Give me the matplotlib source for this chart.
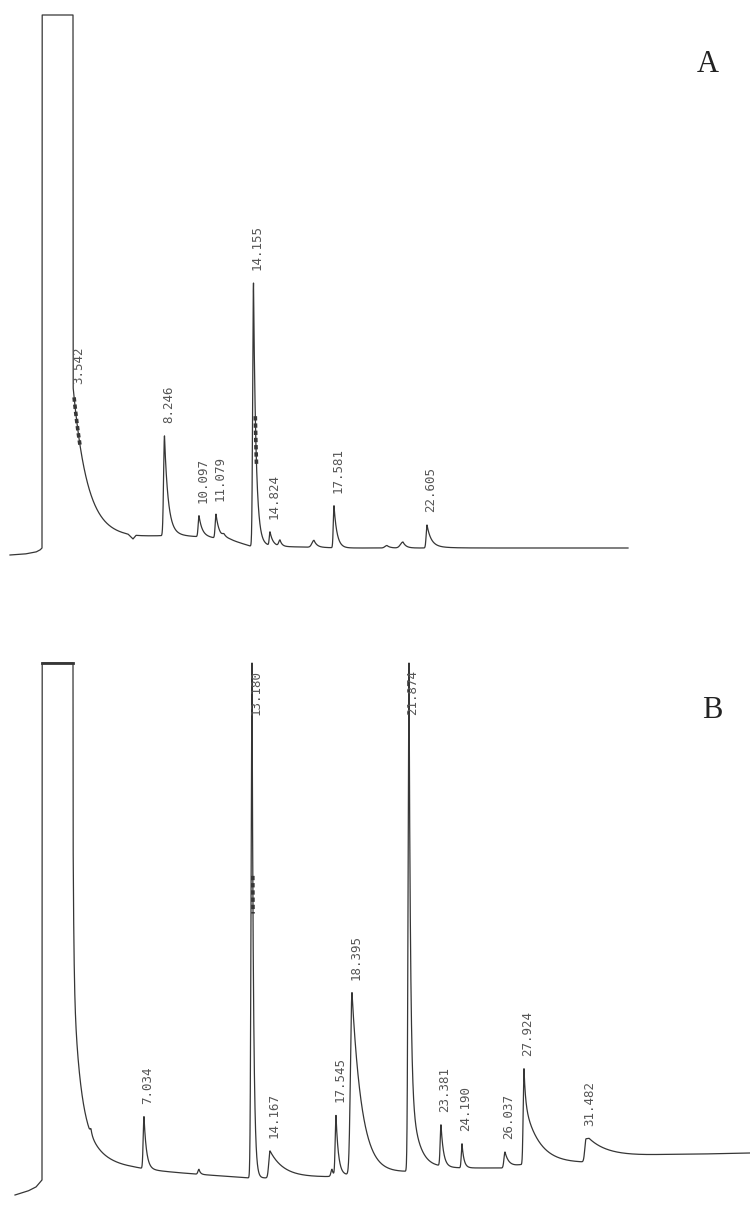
import numpy as np
import matplotlib.pyplot as plt

# x = position along the recorder chart (px), signal = height above panel bottom (px)
FULL_A = 589
FULL_B = 545

# ---- trace A ----
base_a_x = [10, 25, 36, 40, 42, 73, 128, 133, 136, 160, 200, 230, 250, 300, 345, 628]
base_a_sig = [49, 50, 52, 54, 56, 68, 67, 63, 67, 68, 67, 64, 58, 57, 56, 56]
solvent_a = (42, 73)
solvent_a_tail = [(150, 14)]
# position, height, rise width, tail
peaks_a = [
    (164.5, 92, 0.9, 3.5), (164.5, 8, 0.9, 10),
    (199, 18, 0.8, 3), (199, 3, 0.8, 8),
    (216, 21, 0.8, 3), (216, 3, 0.8, 8),
    (224, 3, 1.5, 3),
    (253.5, 257, 0.8, 2.5), (253.5, 6, 1.0, 8),
    (270, 13.5, 0.7, 3),
    (280, 6, 1.2, 2),
    (314, 7, 2.0, 3),
    (334, 42, 0.7, 3),
    (387, 2.5, 2.0, 3),
    (403, 6, 2.5, 3),
    (427, 20, 0.8, 4), (427, 3, 1.0, 12),
]
labels_a = ["3.542", "8.246", "10.097", "11.079", "14.155", "14.824", "17.581", "22.605"]
label_pos_a = [75, 164.5, 199, 216, 253.5, 270, 334, 427]
marks_a = [(74, 80), (255.2, 256.5)]

# ---- trace B ----
base_b_x = [15, 28, 36, 41, 42, 73, 133, 150, 250, 262, 327, 348, 407, 440, 505, 520, 585, 589, 660, 750]
base_b_sig = [13, 17, 21, 27, 28, 38, 38, 37, 30, 30, 31, 33, 36, 40, 40, 43, 45, 50, 53, 55]
solvent_b = (42, 73)
solvent_b_tail = [(160, 0.8), (126, 6.4), (70, 20)]
peaks_b = [
    (91, 5, 0.8, 1.2),
    (144, 52, 0.8, 2.5),
    (199, 5, 1.0, 1.5),
    (252, 515, 0.9, 1.5),
    (270, 27, 1.2, 14),
    (332, 7, 1.0, 1.5),
    (336, 60, 0.8, 2.5),
    (352, 182, 1.5, 10),
    (409, 420, 0.9, 1.5), (409, 90, 0.9, 8.6),
    (441, 41, 0.8, 2.5),
    (462, 24, 0.7, 2),
    (505, 16, 1.0, 4),
    (524, 34, 0.8, 1.5), (524, 62, 0.8, 15),
    (586, 22, 1.2, 20),
]
labels_b = ["7.034", "13.180", "14.167", "17.545", "18.395", "21.874",
            "23.381", "24.190", "26.037", "27.924", "31.482"]
label_pos_b = [144, 252, 270, 336, 352, 409, 441, 462, 505, 524, 586]
marks_b = [(252.7, 253.0)]

LINE = "#363636"
TXT = "#555555"


def trace(bx, bs, solvent, tail, peaks, full):
    x = np.arange(bx[0], bx[-1] + 0.05, 0.1)
    y = np.interp(x, bx, bs)
    for pos, h, s, tau in peaks:
        d = x - pos
        y += np.where(d < 0, h * np.exp(-0.5 * (d / s) ** 2), h * np.exp(-np.clip(d, 0, None) / tau))
    xl, xr = solvent
    after = x > xr
    for h, tau in tail:
        y[after] += h * np.exp(-(x[after] - xr) / tau)
    y[(x >= xl) & (x <= xr)] = full
    return x, np.minimum(y, full)


def draw(ax, x, y, labels, label_pos, marks, full):
    ax.plot(x, y, color=LINE, lw=0.9)
    for a, b in marks:
        m = (x >= a) & (x <= b)
        ax.plot(x[m], y[m], color=LINE, lw=2.6, ls=(0, (1.2, 0.8)))
    for txt, p in zip(labels, label_pos):
        w = (x >= p - 1) & (x <= p + 1)
        top = y[w].max()
        if top >= full - 0.5:
            ax.text(p + 4, full - 7, txt, rotation=90, ha="center", va="top",
                    family="DejaVu Sans Mono", fontsize=9, color=TXT)
        else:
            ax.text(p + 4, top + 13, txt, rotation=90, ha="center", va="bottom",
                    family="DejaVu Sans Mono", fontsize=9, color=TXT)
    ax.set_xlim(0, 750)
    ax.set_ylim(0, 604)
    ax.axis("off")


fig = plt.figure(figsize=(7.5, 12.08), dpi=100)
axA = fig.add_axes([0, 0.5, 1, 0.5])
axB = fig.add_axes([0, 0, 1, 0.5])

xa, ya = trace(base_a_x, base_a_sig, solvent_a, solvent_a_tail, peaks_a, FULL_A)
draw(axA, xa, ya, labels_a, label_pos_a, marks_a, FULL_A)

xb, yb = trace(base_b_x, base_b_sig, solvent_b, solvent_b_tail, peaks_b, FULL_B)
draw(axB, xb, yb, labels_b, label_pos_b, marks_b, FULL_B)
axB.plot(solvent_b, [FULL_B, FULL_B], color=LINE, lw=2)

axA.text(708, 539, "A", family="Liberation Serif", fontsize=22, color="#222222",
         ha="center", va="center")
axB.text(712, 498, "B", family="Liberation Serif", fontsize=22, color="#222222",
         ha="center", va="center")

fig.savefig("out.png", dpi=100)
